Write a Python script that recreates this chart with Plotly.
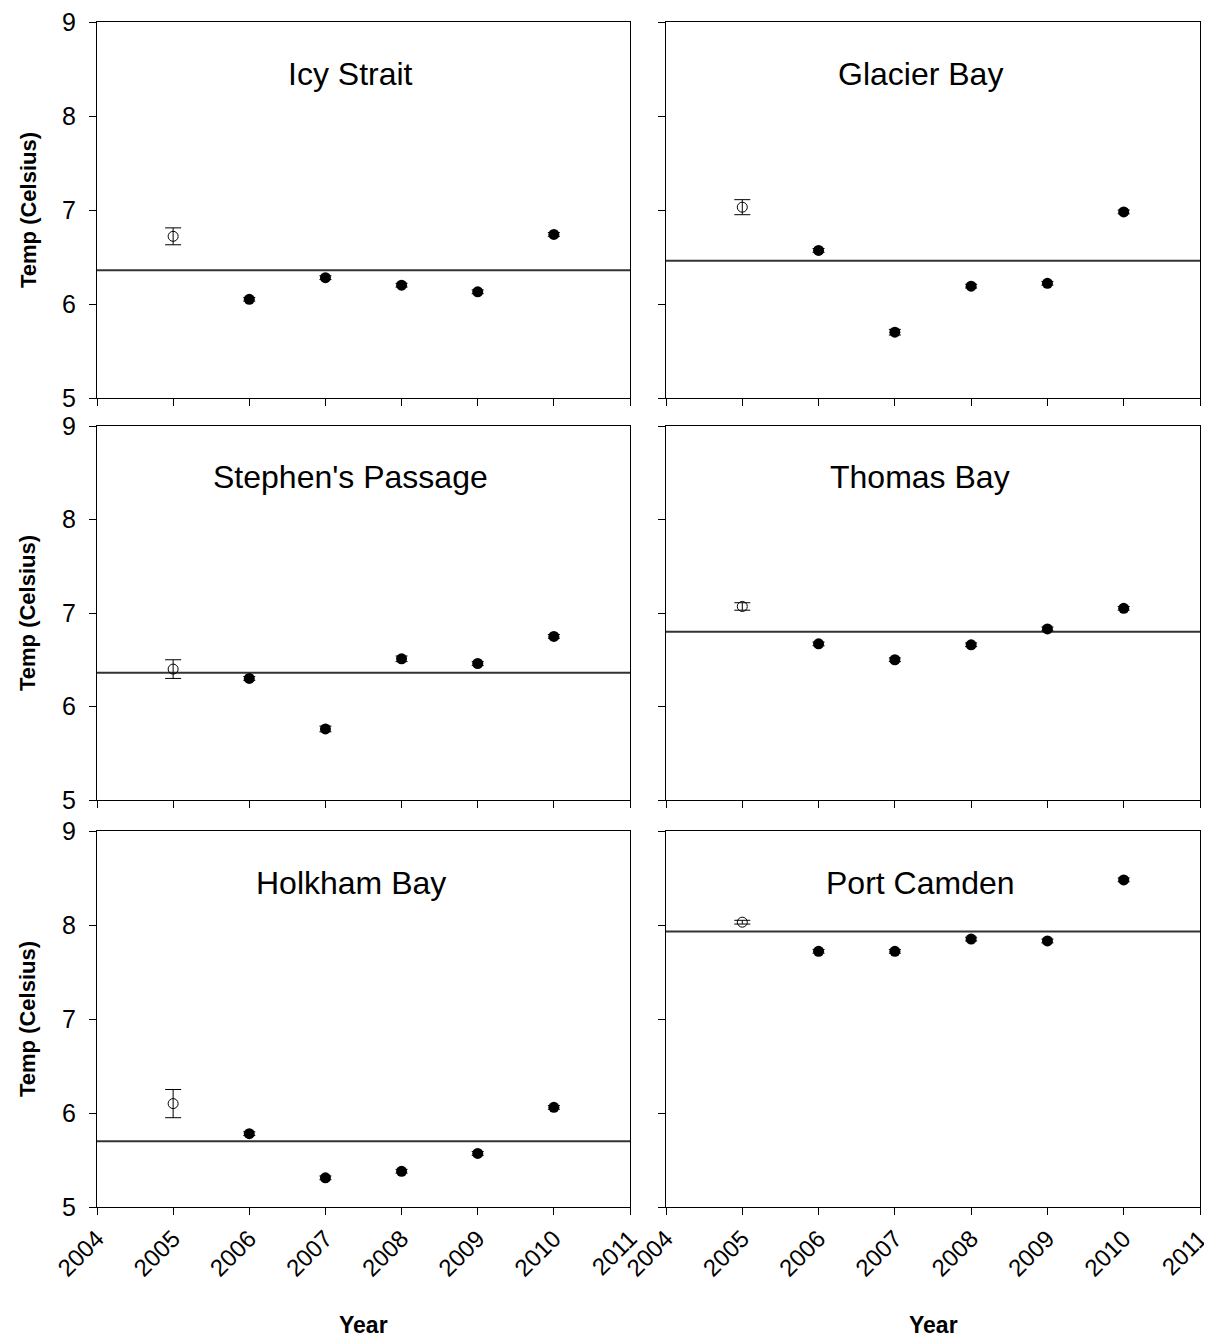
import plotly.graph_objects as go

W, H = 1212, 1339
years = [2005, 2006, 2007, 2008, 2009, 2010]
sites = ["Icy Strait", "Glacier Bay", "Stephen's Passage", "Thomas Bay", "Holkham Bay", "Port Camden"]

icy_strait = [6.72, 6.05, 6.28, 6.20, 6.13, 6.74]
icy_strait_err = [0.09, 0.02, 0.02, 0.02, 0.02, 0.02]
icy_strait_mean = 6.36

glacier_bay = [7.03, 6.57, 5.70, 6.19, 6.22, 6.98]
glacier_bay_err = [0.08, 0.02, 0.03, 0.02, 0.02, 0.02]
glacier_bay_mean = 6.46

stephens = [6.40, 6.30, 5.76, 6.51, 6.46, 6.75]
stephens_err = [0.10, 0.02, 0.03, 0.03, 0.02, 0.02]
stephens_mean = 6.36

thomas_bay = [7.07, 6.67, 6.50, 6.66, 6.83, 7.05]
thomas_bay_err = [0.04, 0.02, 0.02, 0.02, 0.02, 0.02]
thomas_bay_mean = 6.80

holkham_bay = [6.10, 5.78, 5.31, 5.38, 5.57, 6.06]
holkham_bay_err = [0.15, 0.02, 0.02, 0.02, 0.02, 0.02]
holkham_bay_mean = 5.70

port_camden = [8.03, 7.72, 7.72, 7.85, 7.83, 8.48]
port_camden_err = [0.02, 0.02, 0.02, 0.02, 0.02, 0.02]
port_camden_mean = 7.93

values = [icy_strait, glacier_bay, stephens, thomas_bay, holkham_bay, port_camden]
errors = [icy_strait_err, glacier_bay_err, stephens_err, thomas_bay_err, holkham_bay_err, port_camden_err]
means = [icy_strait_mean, glacier_bay_mean, stephens_mean, thomas_bay_mean, holkham_bay_mean, port_camden_mean]

x_ticks = [2004, 2005, 2006, 2007, 2008, 2009, 2010, 2011]
y_ticks = [5, 6, 7, 8, 9]

# page body has an 8px margin, so positions are offset by -8
OFF = 8
col_px = [(97 - OFF, 630 - OFF), (666 - OFF, 1200 - OFF)]
row_px = [(22 - OFF, 398 - OFF), (426 - OFF, 800 - OFF), (831 - OFF, 1207 - OFF)]

FONT = "Liberation Sans, Arial, sans-serif"
fig = go.Figure()
layout = dict(width=W, height=H, margin=dict(l=0, r=0, t=0, b=0, autoexpand=False),
              template="none",
              plot_bgcolor="white", paper_bgcolor="white", showlegend=False,
              font=dict(family=FONT, color="black"))
annotations = []

for i in range(6):
    r, c = divmod(i, 2)
    n = i + 1
    xa = "xaxis" if n == 1 else f"xaxis{n}"
    ya = "yaxis" if n == 1 else f"yaxis{n}"
    xr = "x" if n == 1 else f"x{n}"
    yr = "y" if n == 1 else f"y{n}"
    x0, x1 = col_px[c]
    y0, y1 = row_px[r]
    layout[xa] = dict(domain=[x0 / W, x1 / W], range=[2004, 2011], anchor=yr,
                      tickvals=x_ticks, ticktext=[str(t) for t in x_ticks],
                      showticklabels=(r == 2), tickangle=-45, automargin=False,
                      ticklabeloverflow="allow",
                      ticks="outside", ticklen=7, tickcolor="black", tickwidth=1,
                      showline=True, linecolor="black", linewidth=1, mirror=True,
                      showgrid=False, zeroline=False,
                      tickfont=dict(size=24, family=FONT, color="black"))
    layout[ya] = dict(domain=[1 - y1 / H, 1 - y0 / H], range=[5, 9], anchor=xr,
                      tickvals=y_ticks, showticklabels=(c == 0), automargin=False,
                      ticklabeloverflow="allow",
                      ticks="outside", ticklen=7, tickcolor="black", tickwidth=1,
                      ticklabelstandoff=8,
                      showline=True, linecolor="black", linewidth=1, mirror=True,
                      showgrid=False, zeroline=False,
                      tickfont=dict(size=25, family=FONT, color="black"))
    # mean line
    fig.add_trace(go.Scatter(x=[2004, 2011], y=[means[i], means[i]], mode="lines",
                             line=dict(color="#333333", width=2), xaxis=xr, yaxis=yr,
                             hoverinfo="skip"))
    # open first point
    fig.add_trace(go.Scatter(x=years[:1], y=values[i][:1], mode="markers",
                             marker=dict(symbol="circle-open", size=10, color="black",
                                         line=dict(width=1, color="black")),
                             error_y=dict(type="data", array=errors[i][:1], color="black",
                                          thickness=1, width=8),
                             xaxis=xr, yaxis=yr))
    # filled points
    fig.add_trace(go.Scatter(x=years[1:], y=values[i][1:], mode="markers",
                             marker=dict(symbol="circle", size=11, color="black"),
                             error_y=dict(type="data", array=errors[i][1:], color="black",
                                          thickness=1, width=6),
                             xaxis=xr, yaxis=yr))
    annotations.append(dict(x=2007.33, y=8.45, xref=xr, yref=yr, text=sites[i],
                            showarrow=False, font=dict(size=32, family=FONT, color="black")))
    if c == 0:
        annotations.append(dict(x=(28 - OFF) / W, y=1 - ((y0 + y1) / 2) / H, xref="paper", yref="paper",
                                xanchor="center", yanchor="middle",
                                text="<b>Temp (Celsius)</b>", textangle=-90, showarrow=False,
                                font=dict(size=22, family=FONT, color="black")))
    if r == 2:
        annotations.append(dict(x=((x0 + x1) / 2) / W, y=1 - (1325 - OFF) / H, xref="paper", yref="paper",
                                xanchor="center", yanchor="middle",
                                text="<b>Year</b>", showarrow=False,
                                font=dict(size=23, family=FONT, color="black")))

layout["annotations"] = annotations
fig.update_layout(**layout)
fig.write_html("out.html")
